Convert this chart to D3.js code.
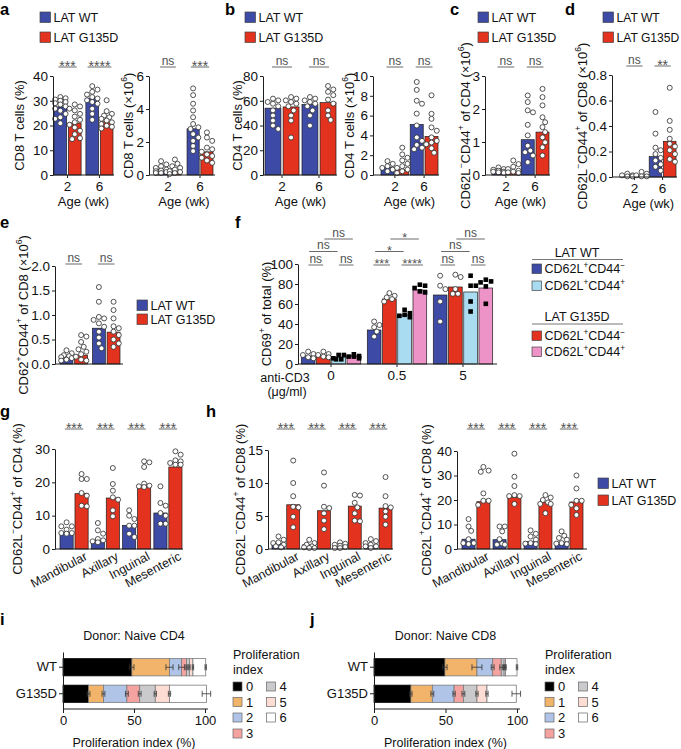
<!DOCTYPE html>
<html><head><meta charset="utf-8">
<script src="https://cdn.jsdelivr.net/npm/d3@7"></script>
<style>
body{margin:0;background:#fff;}
svg{display:block;font-family:"Liberation Sans",Arial,Helvetica,sans-serif;}
</style></head><body>
<svg id="fig" width="681" height="749"></svg>
<script>
// ================= DATA =================
const ageGroups = ["2", "6"];
const genotypeLabels = ["LAT WT", "LAT G135D"];

// a: CD8 T cells (%)
const aPctMeans = [[27.5, 21.0], [31.0, 21.5]];
const aPctDots = [
  [[31.5,31,30.5,30,29.5,29,28.5,27.7,26.8,26,24.7,23.3,22.7,20.9],
   [28.5,27.7,26.8,26.1,24.7,23.6,22.3,21.3,20.3,19.2,17.9,16.5,14.9,14.5]],
  [[35.9,34.5,33.6,32.5,31.5,30.9,30.2,29.5,28.8,26.8,24.7,22.3],
   [30.2,25.8,24.7,24,23.3,22.7,22,21.3,20.6,19.9,19.5,18.8]]
];
const aPctSig = ["***", "****"];
// a: CD8 T cells (x10^6)
const aNumMeans = [[0.33, 0.22], [2.8, 1.4]];
const aNumDots = [
  [[0.84,0.64,0.53,0.43,0.33,0.27,0.23,0.18,0.12,0.12],
   [0.94,0.68,0.53,0.43,0.33,0.23,0.18,0.12,0.06]],
  [[5.25,4.84,4.32,3.91,3.5,3.09,2.89,2.79,2.48,2.27,2.07,1.76,1.45],
   [2.58,2.27,2.07,1.66,1.56,1.41,1.25,1.15,1.05,0.88,0.74]]
];
const aNumSig = ["ns", "***"];

// b: CD4 T cells (%)
const bPctMeans = [[54, 55], [57, 58.5]];
const bPctDots = [
  [[61.7,60.3,59,57.6,55.5,52.2,48.1,44,39.9,37.2],
   [63,61.7,60.3,59,57.6,55.5,52.2,48.1,44,30.3]],
  [[63,61.7,60.3,59,57.6,55.5,52.2,48.1,39.9],
   [71.9,69.1,67.2,64.5,60.9,57.7,52.2,48.1,44.5]]
];
const bPctSig = ["ns", "ns"];
// b: CD4 T cells (x10^6)
const bNumMeans = [[0.8, 0.55], [5.1, 3.9]];
const bNumDots = [
  [[1.4,1.13,0.89,0.72,0.55,0.38],
   [2.76,2.08,1.74,1.47,1.13,0.89,0.72,0.55,0.38,0.2]],
  [[9.4,8.6,7.5,7.2,6.2,5.0,3.8,3.45,3.04,2.76,2.6],
   [8.05,6.18,5.67,4.81,4.47,3.8,3.45,3.28,3.1,2.7,2.25]]
];
const bNumSig = ["ns", "ns"];

// c: CD62L-CD44+ of CD4 (x10^6)
const cMeans = [[0.08, 0.1], [1.07, 1.3]];
const cDots = [
  [[0.23,0.18,0.16,0.13,0.1,0.1,0.08,0.06],
   [0.44,0.33,0.25,0.18,0.13,0.1,0.08,0.06]],
  [[2.41,2.21,1.96,1.9,1.52,1.2,0.89,0.74,0.69,0.59,0.39],
   [2.61,2.36,2.11,1.75,1.6,1.45,1.3,1.14,0.99,0.84,0.59]]
];
const cSig = ["ns", "ns"];

// d: CD62L-CD44+ of CD8 (x10^6)
const dMeans = [[0.01, 0.012], [0.16, 0.28]];
const dDots = [
  [[0.026,0.013,0.013,0.005,0.005],
   [0.04,0.026,0.013,0.005,0.005]],
  [[0.51,0.34,0.23,0.21,0.18,0.15,0.13,0.1,0.08,0.05],
   [0.7,0.44,0.37,0.3,0.26,0.24,0.21,0.18,0.14,0.12]]
];
const dSig = ["ns", "**"];

// e: CD62+CD44+ of CD8 (x10^6)
const eMeans = [[0.15, 0.18], [0.73, 0.65]];
const eDots = [
  [[0.28,0.22,0.18,0.16,0.14,0.12,0.09,0.07],
   [0.59,0.56,0.45,0.35,0.3,0.25,0.2,0.15,0.09,0.07]],
  [[1.57,1.27,0.96,0.93,0.9,0.83,0.76,0.66,0.54,0.42,0.32],
   [1.27,1.1,0.93,0.77,0.73,0.66,0.59,0.5,0.42,0.35]]
];
const eSig = ["ns", "ns"];

// f: CD69+ of total (%) ; bar order: WT CD44-, G135D CD44-, WT CD44+, G135D CD44+
const fDoses = ["0", "0.5", "5"];
const fMeans = [[8, 8, 7, 8], [34, 65, 49, 74], [69, 77, 72, 76]];
const fDots = [
  [[12.4,10,9,6.7,5.7],[12.4,10,9,7.4,6.7],[9,9,5.7,4.7,4.7],[9.7,8,7.4,7.4,5.7]],
  [[42.5,39,36.8,32.4,27.4],[70.9,68.2,66.6,64.9,62.5],[54.2,50.8,49.2,48.2,46.8],[79.3,78.3,76,72.6,71.6]],
  [[88.3,78.3,74.9,62.5,42.5],[89.3,87,74.9,70.2,70.2],[88.3,78.3,78.3,62.5,52.5],[84.3,82.6,81.6,77.6,60.2]]
];
const fSigGroup = [0,0,0,0, 1,1,1,1, 2,2,2,2];
const fSigFrom  = [0,2,0,1, 0,2,0,1, 0,2,0,1];
const fSigTo    = [1,3,2,3, 1,3,2,3, 1,3,2,3];
const fSigRow   = [0,0,1,2, 0,0,1,2, 0,0,1,2];
const fSigText  = ["ns","ns","ns","ns", "***","****","*","*", "ns","ns","ns","ns"];

// g, h: lymph nodes
const lymphNodes = ["Mandibular", "Axillary", "Inguinal", "Mesenteric"];
const gMeans = [[5, 16.6], [2.6, 15.3], [7.1, 19], [10.8, 24.6]];
const gDots = [
  [[8,6.8,6.8,5.8,4.8,4.8,4.6],[22.5,21,21,16.8,16,13,12.8]],
  [[7.8,5.6,4.6,3,2.6,2.3,2],[24.3,19.5,17.5,15.5,14.8,11.6,9.8]],
  [[11.6,10,9,7,7,4.6,3.6],[26.3,26,24.6,19.6,19,18.8,18.6]],
  [[18.8,13.8,13,10.8,10,7.6,7.6],[29.3,28.3,26.6,26.3,25.8,25.3,25.3]]
];
const h1Means = [[0.8, 6.7], [0.65, 5.8], [0.25, 6.5], [0.5, 6.2]];
const h1Dots = [
  [[1.9,1.4,1.0,0.9,0.65,0.4,0.25],[13.4,10,8,6.4,6.3,4.9,3.3]],
  [[1.4,0.9,0.65,0.4,0.25,0.15,0.15],[11.6,9.6,6.4,6.2,5.4,4.3,3]],
  [[1,0.8,0.65,0.5,0.3,0.15,0.15],[8.2,8.1,7,6.3,5.4,4.3,4.2]],
  [[1.5,1.2,0.9,0.65,0.4,0.4,0.15],[10.9,8,6.5,6.3,5.7,4.9,3.7]]
];
const h2Means = [[4, 19.3], [3.8, 21], [3, 19], [2.8, 19.2]];
const h2Dots = [
  [[12.2,9.2,7.4,4,2.4,2.4,2],[33.5,32,31.5,22.7,19.7,19.7,18]],
  [[9.2,9.2,7.2,4,2.2,1.8,1.8],[38.9,29.5,25.7,22,21.6,21.6,18.4]],
  [[7.6,6.2,5.1,3.8,2.4,2.2,2],[22,21,20,19,18.4,18.4,14.6]],
  [[7.2,5.4,4.5,3.8,2.4,2.2,2],[30,24.7,19.7,19.7,18,16.6,13.9]]
];
const ghSig = ["***", "***", "***", "***"];

// i, j: proliferation index stacked bars (%)
const prolifIndex = ["0", "1", "2", "3", "4", "5", "6"];
const donorRows = ["WT", "G135D"];
const iWT = [48.5, 26.5, 8.5, 3.5, 2, 2.5, 9];
const iWTerr = [1.5, 2.5, 2, 0.5, 0.5, 0.5, 0.5];
const iG135D = [18, 10.5, 16.5, 9, 11, 10, 26];
const iG135Derr = [1, 1, 1, 1, 0.8, 0.8, 3];
const jWT = [49.6, 22.4, 11, 6, 2, 1, 8];
const jWTerr = [1.5, 3.5, 1, 1, 0.5, 0.5, 0.5];
const jG135D = [25.8, 15, 15.2, 6.5, 9.5, 7, 20.5];
const jG135Derr = [0.8, 1, 0.8, 1, 0.8, 0.8, 3];

// ================= STYLE =================
const C_WT = "#3D4BA6", C_G = "#E3321E", C_WT2 = "#A9DCF0", C_G2 = "#EE93C7";
const prolifColors = ["#000000", "#F2B46A", "#AFC4E7", "#F4A3A0", "#CACACD", "#FCDCD3", "#FFFFFF"];
const AX = "#1e1e1e";
const FS = 13;      // axis titles & tick labels
const LFS = 12.5;   // legends and small captions
const svg = d3.select("#fig");

function rich(t, str, fs) {
  const parts = str.split(/(\^\{[^}]*\})/).filter(p => p.length);
  let up = false;
  parts.forEach(p => {
    if (p.startsWith("^{")) {
      t.append("tspan").attr("dy", -fs * 0.4).attr("font-size", fs * 0.66).text(p.slice(2, -1));
      up = true;
    } else {
      const s = t.append("tspan").text(p);
      if (up) { s.attr("dy", fs * 0.4); up = false; }
    }
  });
}

function panelLetter(x, y, l) {
  svg.append("text").attr("x", x).attr("y", y).attr("font-size", 16.5).attr("font-weight", "bold").attr("fill", "#000").text(l);
}

function legendSq(x, y, size, color, label, fs) {
  svg.append("rect").attr("x", x).attr("y", y).attr("width", size).attr("height", size)
    .attr("fill", color).attr("stroke", "#444").attr("stroke-width", 0.7);
  const t = svg.append("text").attr("x", x + size + 3).attr("y", y + size - 0.5).attr("font-size", fs).attr("fill", "#111");
  rich(t, label, fs);
}

function swarm(values, r, maxOff, y) {
  const pts = values.map(v => ({ v, py: y(v) })).sort((a, b) => a.py - b.py);
  const placed = [];
  const step = r * 1.05;
  pts.forEach(p => {
    let best = 0, bestOv = Infinity;
    for (let k = 0; k <= 24; k++) {
      const off = (k % 2 === 1 ? 1 : -1) * Math.ceil(k / 2) * step;
      if (Math.abs(off) > maxOff) continue;
      let ov = 0;
      for (const q of placed) {
        const d = Math.hypot(q.dx - off, q.py - p.py);
        if (d < 2 * r) ov += 2 * r - d;
      }
      if (ov === 0) { best = off; bestOv = 0; break; }
      if (ov < bestOv) { bestOv = ov; best = off; }
    }
    p.dx = best;
    placed.push(p);
  });
  return pts;
}

function styleAxis(sel, fs) {
  sel.select(".domain").attr("stroke", AX).attr("stroke-width", 1);
  sel.selectAll(".tick line").attr("stroke", AX).attr("stroke-width", 1);
  sel.selectAll(".tick text").attr("font-size", fs || 13.5).attr("fill", "#111")
    .attr("font-family", "'Liberation Sans', Arial, sans-serif");
}

function sigMark(g, x1, x2, yLine, label, starFs) {
  const star = label.includes("*");
  const fs = star ? (starFs || 14) : 12;
  const tw = star ? label.length * 0.389 * fs : 1.056 * fs;
  const mid = (x1 + x2) / 2;
  const a = Math.min(x1, mid - tw / 2 - 1), b = Math.max(x2, mid + tw / 2 + 1);
  g.append("line").attr("x1", a).attr("x2", b).attr("y1", yLine).attr("y2", yLine)
    .attr("stroke", "#6a6a6a").attr("stroke-width", 1);
  g.append("text").attr("x", mid).attr("y", star ? yLine + fs * 0.26 : yLine - 2.2)
    .attr("text-anchor", "middle").attr("font-size", fs).attr("fill", "#505050").text(label);
}

function barChart(o) {
  const g = svg.append("g");
  const y = d3.scaleLinear().domain(o.yDomain).range(o.yRange);
  const x = d3.scaleBand().domain(o.groups).range(o.band).paddingInner(o.pIn).paddingOuter(o.pOut || 0);
  const ns = o.means[0].length;
  const xs = d3.scaleBand().domain(d3.range(ns)).range([0, x.bandwidth()]).paddingInner(o.sIn ?? 0.12);
  const bw = xs.bandwidth();
  const cx = (gi, si) => x(o.groups[gi]) + xs(si) + bw / 2;
  o.means.forEach((row, gi) => row.forEach((m, si) => {
    g.append("rect").attr("x", cx(gi, si) - bw / 2).attr("y", y(m)).attr("width", bw)
      .attr("height", Math.max(0, y(0) - y(m)))
      .attr("fill", o.colors[si]).attr("stroke", "#1e1e1e").attr("stroke-width", 0.7);
  }));
  o.dots.forEach((row, gi) => row.forEach((vals, si) => {
    const shape = o.shapes ? o.shapes[si] : "circle";
    const r = 2.5;
    const pts = swarm(vals, r, bw / 2 - 0.8, y);
    pts.forEach(p => {
      if (shape === "square") {
        g.append("rect").attr("x", cx(gi, si) + p.dx - 2.3).attr("y", p.py - 2.3)
          .attr("width", 4.6).attr("height", 4.6).attr("fill", "#000");
      } else {
        g.append("circle").attr("cx", cx(gi, si) + p.dx).attr("cy", p.py).attr("r", r)
          .attr("fill", "#fff").attr("stroke", "#2a2a2a").attr("stroke-width", 0.8);
      }
    });
  }));
  const ya = g.append("g").attr("transform", `translate(${o.axisX},0)`)
    .call(d3.axisLeft(y).tickValues(o.ticks).tickFormat(o.fmt || d3.format("d"))
      .tickSize(3).tickPadding(2).tickSizeOuter(0));
  styleAxis(ya);
  g.append("line").attr("x1", o.axisX).attr("x2", o.xEnd).attr("y1", y(0)).attr("y2", y(0))
    .attr("stroke", AX).attr("stroke-width", 1);
  if (o.xTicks) {
    const xa = g.append("g").attr("transform", `translate(0,${y(0)})`)
      .call(d3.axisBottom(x).tickSize(3).tickPadding(3).tickSizeOuter(0));
    xa.select(".domain").remove();
    styleAxis(xa);
    if (!o.xTickLabels) xa.selectAll(".tick text").remove();
  }
  if (o.rotLabels) {
    o.groups.forEach(grp => {
      const px = x(grp) + x.bandwidth() / 2 + 14, py = y(0) + 10;
      g.append("text").attr("transform", `translate(${px},${py}) rotate(-28)`)
        .attr("text-anchor", "end").attr("font-size", 12.5).attr("fill", "#111").text(grp);
    });
  }
  if (o.xTitle) {
    g.append("text").attr("x", (o.band[0] + o.band[1]) / 2).attr("y", y(0) + 30.5)
      .attr("text-anchor", "middle").attr("font-size", FS).attr("fill", "#111").text(o.xTitle);
  }
  const cy = (o.yRange[0] + o.yRange[1]) / 2;
  const yl = g.append("text").attr("transform", `translate(${o.yLabelX + 4.5},${cy}) rotate(-90)`)
    .attr("text-anchor", "middle").attr("font-size", FS).attr("fill", "#111");
  rich(yl, o.yLabel, FS);
  if (o.sig) {
    o.sig.forEach((lab, gi) => {
      sigMark(g, cx(gi, 0) - 1, cx(gi, 1) + 1, o.sigY, lab);
    });
  }
  return { g, x, y, cx };
}

// ================= TOP ROW =================
const topY = [175, 76];
const supMinus = "^{−}", supPlus = "^{+}";

panelLetter(0, 15, "a");
legendSq(40, 12, 10.5, C_WT, genotypeLabels[0], LFS);
legendSq(40, 32, 10.5, C_G, genotypeLabels[1], LFS);
barChart({ axisX: 53, band: [54, 113], pIn: 0.15, xEnd: 114, yRange: topY, yDomain: [0, 40],
  ticks: [0, 10, 20, 30, 40], groups: ageGroups, means: aPctMeans, dots: aPctDots, colors: [C_WT, C_G],
  xTicks: true, xTickLabels: true, xTitle: "Age (wk)", yLabel: "CD8 T cells (%)", yLabelX: 19,
  sig: aPctSig, sigY: 67 });
barChart({ axisX: 149, band: [155, 213], pIn: 0.19, xEnd: 215, yRange: topY, yDomain: [0, 6],
  ticks: [0, 2, 4, 6], groups: ageGroups, means: aNumMeans, dots: aNumDots, colors: [C_WT, C_G],
  xTicks: true, xTickLabels: true, xTitle: "Age (wk)", yLabel: "CD8 T cells (×10^{6})", yLabelX: 128,
  sig: aNumSig, sigY: 67 });

panelLetter(225, 15, "b");
legendSq(245, 12, 10.5, C_WT, genotypeLabels[0], LFS);
legendSq(245, 32, 10.5, C_G, genotypeLabels[1], LFS);
barChart({ axisX: 263, band: [265, 336], pIn: 0.08, xEnd: 337, yRange: topY, yDomain: [0, 80],
  ticks: [0, 20, 40, 60, 80], groups: ageGroups, means: bPctMeans, dots: bPctDots, colors: [C_WT, C_G],
  xTicks: true, xTickLabels: true, xTitle: "Age (wk)", yLabel: "CD4 T cells (%)", yLabelX: 237,
  sig: bPctSig, sigY: 67 });
barChart({ axisX: 373, band: [381, 438], pIn: 0.05, xEnd: 439, yRange: topY, yDomain: [0, 10],
  ticks: [0, 2, 4, 6, 8, 10], groups: ageGroups, means: bNumMeans, dots: bNumDots, colors: [C_WT, C_G],
  xTicks: true, xTickLabels: true, xTitle: "Age (wk)", yLabel: "CD4 T cells (×10^{6})", yLabelX: 349,
  sig: bNumSig, sigY: 67 });

panelLetter(450, 15, "c");
legendSq(478, 12, 10.5, C_WT, genotypeLabels[0], LFS);
legendSq(478, 32, 10.5, C_G, genotypeLabels[1], LFS);
barChart({ axisX: 485, band: [492, 549], pIn: 0.05, xEnd: 550, yRange: topY, yDomain: [0, 3],
  ticks: [0, 1, 2, 3], groups: ageGroups, means: cMeans, dots: cDots, colors: [C_WT, C_G],
  xTicks: true, xTickLabels: true, xTitle: "Age (wk)",
  yLabel: "CD62L" + supMinus + "CD44" + supPlus + " of CD4 (×10^{6})", yLabelX: 465,
  sig: cSig, sigY: 67 });

panelLetter(565, 15, "d");
legendSq(603, 12, 10.5, C_WT, genotypeLabels[0], 12.1);
legendSq(603, 32, 10.5, C_G, genotypeLabels[1], 12.1);
barChart({ axisX: 612, band: [621, 676], pIn: 0.05, xEnd: 677, yRange: [177, 75], yDomain: [0, 0.8],
  ticks: [0, 0.2, 0.4, 0.6, 0.8], fmt: d3.format(".1f"), groups: ageGroups, means: dMeans, dots: dDots,
  colors: [C_WT, C_G], xTicks: true, xTickLabels: true, xTitle: "Age (wk)",
  yLabel: "CD62L" + supMinus + "CD44" + supPlus + " of CD8 (×10^{6})", yLabelX: 582,
  sig: dSig, sigY: 66 });

// ================= e =================
panelLetter(0, 228, "e");
barChart({ axisX: 55, band: [60, 120], pIn: 0.15, xEnd: 123, yRange: [364, 266], yDomain: [0, 2],
  ticks: [0, 0.5, 1, 1.5, 2], fmt: d3.format(".1f"), groups: ageGroups, means: eMeans, dots: eDots,
  colors: [C_WT, C_G], xTicks: false,
  yLabel: "CD62" + supPlus + "CD44" + supPlus + " of CD8 (×10^{6})", yLabelX: 23,
  sig: eSig, sigY: 264 });
legendSq(137, 300, 10.5, C_WT, genotypeLabels[0], LFS);
legendSq(137, 314, 10.5, C_G, genotypeLabels[1], LFS);

// ================= f =================
panelLetter(235, 228, "f");
const fc = barChart({ axisX: 298, band: [300, 494], pIn: 0.1, pOut: 0.02, sIn: 0.1, xEnd: 497,
  yRange: [364, 264], yDomain: [0, 100], ticks: [0, 20, 40, 60, 80, 100], groups: fDoses,
  means: fMeans, dots: fDots, colors: [C_WT, C_G, C_WT2, C_G2],
  shapes: ["circle", "circle", "square", "square"], xTicks: true, xTickLabels: true,
  yLabel: "CD69" + supPlus + " of total (%)", yLabelX: 266 });
const fRowY = [265, 251.5, 239];
fSigText.forEach((lab, i) => {
  sigMark(fc.g, fc.cx(fSigGroup[i], fSigFrom[i]) + 1, fc.cx(fSigGroup[i], fSigTo[i]) - 1, fRowY[fSigRow[i]], lab, 12.5);
});
svg.append("text").attr("x", 285).attr("y", 382).attr("text-anchor", "middle").attr("font-size", LFS).attr("fill", "#111").text("anti-CD3");
svg.append("text").attr("x", 287).attr("y", 396).attr("text-anchor", "middle").attr("font-size", LFS).attr("fill", "#111").text("(μg/ml)");
// f legend
function legendHeader(cx, y, x1, x2, label) {
  svg.append("text").attr("x", cx).attr("y", y).attr("text-anchor", "middle").attr("font-size", LFS).attr("fill", "#111").text(label);
  svg.append("line").attr("x1", x1).attr("x2", x2).attr("y1", y + 3).attr("y2", y + 3).attr("stroke", "#777").attr("stroke-width", 1);
}
legendHeader(577, 256.5, 532, 623, "LAT WT");
legendSq(532, 264, 9.5, C_WT, "CD62L" + supPlus + "CD44" + supMinus, LFS);
legendSq(532, 281, 9.5, C_WT2, "CD62L" + supPlus + "CD44" + supPlus, LFS);
legendHeader(577, 321, 532, 623, "LAT G135D");
legendSq(532, 331, 9.5, C_G, "CD62L" + supPlus + "CD44" + supMinus, LFS);
legendSq(532, 347, 9.5, C_G2, "CD62L" + supPlus + "CD44" + supPlus, LFS);

// ================= g, h =================
panelLetter(0, 417, "g");
barChart({ axisX: 55, band: [60, 182], pIn: 0.1, xEnd: 183, yRange: [549, 449], yDomain: [0, 30],
  ticks: [0, 10, 20, 30], groups: lymphNodes, means: gMeans, dots: gDots, colors: [C_WT, C_G],
  rotLabels: true, yLabel: "CD62L" + supMinus + "CD44" + supPlus + " of CD4 (%)", yLabelX: 17,
  sig: ghSig, sigY: 429 });
panelLetter(206, 417, "h");
barChart({ axisX: 268, band: [272, 392], pIn: 0.1, xEnd: 393, yRange: [549, 450], yDomain: [0, 15],
  ticks: [0, 5, 10, 15], groups: lymphNodes, means: h1Means, dots: h1Dots, colors: [C_WT, C_G],
  rotLabels: true, yLabel: "CD62L" + supMinus + "CD44" + supPlus + " of CD8 (%)", yLabelX: 240,
  sig: ghSig, sigY: 429 });
barChart({ axisX: 457, band: [462, 583], pIn: 0.1, xEnd: 587, yRange: [549, 451], yDomain: [0, 40],
  ticks: [0, 10, 20, 30, 40], groups: lymphNodes, means: h2Means, dots: h2Dots, colors: [C_WT, C_G],
  rotLabels: true, yLabel: "CD62L" + supPlus + "CD44" + supPlus + " of CD8 (%)", yLabelX: 426,
  sig: ghSig, sigY: 429 });
legendSq(598, 478, 10.5, C_WT, genotypeLabels[0], LFS);
legendSq(598, 495, 10.5, C_G, genotypeLabels[1], LFS);

// ================= i, j =================
function stackPanel(o) {
  const g = svg.append("g");
  const x = d3.scaleLinear().domain([0, 100]).range([o.x0, o.x100]);
  const y = d3.scaleBand().domain(donorRows).range([o.yTop, o.yBot]).paddingInner(0.35).paddingOuter(0.25);
  o.data.forEach((vals, ri) => {
    let cum = 0;
    const yy = y(donorRows[ri]), h = y.bandwidth();
    const ends = [];
    vals.forEach((v, k) => {
      g.append("rect").attr("x", x(cum)).attr("y", yy).attr("width", x(cum + v) - x(cum)).attr("height", h)
        .attr("fill", prolifColors[k]).attr("stroke", k === 0 ? "#000" : "#7a7a7a").attr("stroke-width", 0.8);
      cum += v; ends.push(cum);
    });
    const ym = yy + h / 2;
    ends.forEach((e, k) => {
      const err = o.err[ri][k];
      g.append("line").attr("x1", x(e - err)).attr("x2", x(e + err)).attr("y1", ym).attr("y2", ym).attr("stroke", "#333").attr("stroke-width", 0.8);
      [e - err, e + err].forEach(v => g.append("line").attr("x1", x(v)).attr("x2", x(v)).attr("y1", ym - 3).attr("y2", ym + 3).attr("stroke", "#333").attr("stroke-width", 0.8));
    });
  });
  const ya = g.append("g").attr("transform", `translate(${o.x0},0)`)
    .call(d3.axisLeft(y).tickSize(4).tickPadding(2).tickSizeOuter(0));
  styleAxis(ya, FS);
  const xa = g.append("g").attr("transform", `translate(0,${o.yBot})`)
    .call(d3.axisBottom(x).tickValues([0, 50, 100]).tickSize(4).tickPadding(3).tickSizeOuter(0));
  xa.select(".domain").remove();
  styleAxis(xa, FS);
  g.append("line").attr("x1", o.x0).attr("x2", o.xEnd).attr("y1", o.yBot).attr("y2", o.yBot).attr("stroke", AX);
  g.append("text").attr("x", (o.x0 + o.x100) / 2).attr("y", o.yTop - 12).attr("text-anchor", "middle")
    .attr("font-size", LFS).attr("fill", "#111").text(o.title);
  g.append("text").attr("x", (o.x0 + o.x100) / 2).attr("y", 747).attr("text-anchor", "middle")
    .attr("font-size", LFS).attr("fill", "#111").text("Proliferation index (%)");
  // legend
  g.append("text").attr("x", o.lx).attr("y", 659).attr("font-size", LFS).attr("fill", "#111").text("Proliferation");
  g.append("text").attr("x", o.lx).attr("y", 673.5).attr("font-size", LFS).attr("fill", "#111").text("index");
  const rowsY = [682, 697.5, 713, 729];
  prolifIndex.forEach((lab, k) => {
    const col = k < 4 ? 0 : 1, row = k < 4 ? k : k - 4;
    const sx = o.lx + col * 33.5;
    g.append("rect").attr("x", sx).attr("y", rowsY[row]).attr("width", 9).attr("height", 9)
      .attr("fill", prolifColors[k]).attr("stroke", "#666").attr("stroke-width", 0.7);
    g.append("text").attr("x", sx + 13).attr("y", rowsY[row] + 9).attr("font-size", FS).attr("fill", "#111").text(lab);
  });
}
panelLetter(0, 625, "i");
stackPanel({ x0: 63, x100: 205, xEnd: 208, yTop: 652, yBot: 709, data: [iWT, iG135D], err: [iWTerr, iG135Derr],
  title: "Donor: Naive CD4", lx: 233 });
panelLetter(310, 625, "j");
stackPanel({ x0: 374, x100: 517, xEnd: 520, yTop: 652, yBot: 709, data: [jWT, jG135D], err: [jWTerr, jG135Derr],
  title: "Donor: Naive CD8", lx: 545 });
</script>
</body></html>
